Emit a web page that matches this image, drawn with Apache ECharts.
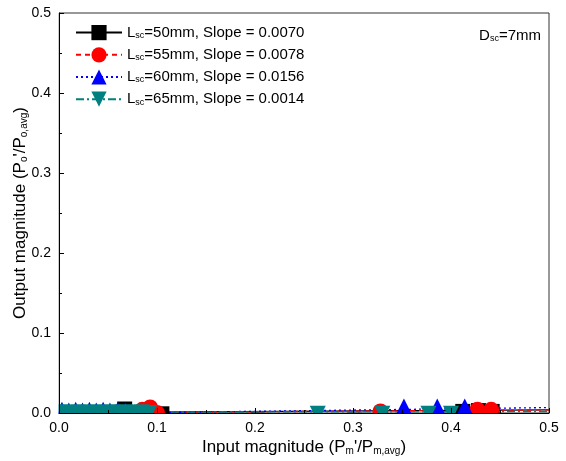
<!DOCTYPE html>
<html>
<head>
<meta charset="utf-8">
<script src="https://cdn.jsdelivr.net/npm/echarts@6/dist/echarts.min.js"></script>
<style>
html,body{margin:0;padding:0;background:#fff}
#myChart{width:566px;height:461px}
</style>
</head>
<body>
<div id="myChart"></div>
<script>
// series meta
var lengths = ['50', '55', '60', '65'];
var slopeText = ['0.0070', '0.0078', '0.0156', '0.0014'];
var slopes = [0.0070, 0.0078, 0.0156, 0.0014];
var intercepts = [0.0005, 0.0, -0.001, 0.001];
var colors = ['#000000', '#ff0000', '#0000ff', '#008080'];
var symbols = ['rect', 'circle', 'triangle', 'path://M0,0 L10,0 L5,10 Z'];
var lineTypes = ['solid', [5, 4], [2, 3], [8, 3, 2, 3]];

var x50 = [0.005, 0.015, 0.025, 0.035, 0.045, 0.055, 0.067, 0.105, 0.203, 0.302, 0.412, 0.428, 0.442];
var y50 = [-0.004, -0.005, -0.004, -0.005, -0.004, -0.003, 0.005, -0.001, -0.009, -0.009, 0.002, 0.003, 0.002];
var x55 = [0.01, 0.02, 0.03, 0.04, 0.05, 0.06, 0.085, 0.093, 0.1, 0.328, 0.427, 0.441];
var y55 = [-0.004, -0.005, -0.004, -0.003, -0.004, 0.001, 0.004, 0.007, 0.0, 0.002, 0.004, 0.004];
var x60 = [0.003, 0.01, 0.017, 0.024, 0.031, 0.038, 0.045, 0.052, 0.06, 0.068, 0.352, 0.386, 0.414];
var y60 = [0.004, 0.003, 0.004, 0.003, 0.004, 0.003, 0.004, 0.003, 0.004, 0.003, 0.008, 0.008, 0.008];
var x65 = [0.004, 0.012, 0.02, 0.028, 0.036, 0.044, 0.052, 0.06, 0.068, 0.076, 0.084, 0.092, 0.264, 0.33, 0.377, 0.4];
var y65 = [0.001, 0.0, 0.001, 0.0, 0.001, 0.0, 0.001, 0.0, 0.001, 0.0, 0.001, 0.0, -0.001, -0.001, -0.001, -0.001];

var xs = [x50, x55, x60, x65];
var ys = [y50, y55, y60, y65];

var chartDom = document.getElementById('myChart');
var myChart = echarts.init(chartDom);
var option;

var txtFont = 'Liberation Sans, Arial, sans-serif';
var subRich = {
    n: { fontSize: 15, fontFamily: txtFont, color: '#000', fontWeight: 'normal' },
    s: { fontSize: 9, fontFamily: txtFont, color: '#000', fontWeight: 'normal', verticalAlign: 'bottom', padding: [6, 0, 0, 0] }
};
var nameRich = {
    n: { fontSize: 17, fontFamily: txtFont, color: '#000', fontWeight: 'normal' },
    s: { fontSize: 10, fontFamily: txtFont, color: '#000', fontWeight: 'normal', verticalAlign: 'bottom', padding: [7, 0, 0, 0] }
};

var series = [];
var legendData = [];
for (var i = 0; i < 4; i++) {
    var name = 'L' + lengths[i];
    legendData.push(name);
    // fitted line
    series.push({
        name: name,
        type: 'line',
        data: [[0, intercepts[i]], [0.5, intercepts[i] + slopes[i] * 0.5]],
        showSymbol: false,
        symbol: symbols[i],
        symbolSize: 16,
        itemStyle: { color: colors[i] },
        lineStyle: { color: colors[i], width: 1.3, type: lineTypes[i] },
        silent: true,
        animation: false,
        z: 2
    });
}
for (var j = 0; j < 4; j++) {
    var pts = [];
    for (var k = 0; k < xs[j].length; k++) pts.push([xs[j][k], ys[j][k]]);
    series.push({
        name: 'L' + lengths[j],
        type: 'scatter',
        data: pts,
        symbol: symbols[j],
        symbolSize: j === 0 ? 15 : 16,
        itemStyle: { color: colors[j], opacity: 1 },
        clip: false,
        animation: false,
        z: 3 + j
    });
}

option = {
    animation: false,
    grid: {
        left: 59,
        right: 17,
        top: 13,
        bottom: 48,
        outerBoundsMode: 'none',
        containLabel: false,
        show: true,
        borderColor: '#333',
        borderWidth: 1,
        backgroundColor: 'transparent'
    },
    title: {
        text: '{n|D}{s|sc}{n|=7mm}',
        right: 20,
        top: 23,
        textStyle: { rich: subRich }
    },
    legend: {
        orient: 'vertical',
        left: 75,
        top: 25,
        padding: 0,
        itemWidth: 46,
        itemHeight: 19,
        itemGap: 7,
        data: legendData,
        formatter: function (name) {
            var idx = legendData.indexOf(name);
            return '{n|L}{s|sc}{n|=' + lengths[idx] + 'mm, Slope = ' + slopeText[idx] + '}';
        },
        textStyle: { rich: subRich }
    },
    graphic: [
        { type: 'rect', z: 50, shape: { x: 0, y: 413.5, width: 566, height: 48 }, style: { fill: '#fff' }, silent: true },
        { type: 'rect', z: 50, shape: { x: 0, y: 0, width: 58.5, height: 461 }, style: { fill: '#fff' }, silent: true }
    ],
    xAxis: {
        type: 'value',
        min: 0,
        max: 0.5,
        interval: 0.1,
        z: 60,
        name: '{n|Input magnitude (P}{s|m}{n|\'/P}{s|m,avg}{n|)}',
        nameLocation: 'middle',
        nameGap: 26,
        nameMoveOverlap: false,
        nameTextStyle: { rich: nameRich },
        axisLine: { lineStyle: { color: '#000', width: 1 } },
        axisTick: { inside: true, length: 5, lineStyle: { color: '#000' } },
        minorTick: { show: true, splitNumber: 2, length: 3, lineStyle: { color: '#000' } },
        splitLine: { show: false },
        axisLabel: {
            fontSize: 14,
            fontFamily: txtFont,
            color: '#000',
            margin: 8,
            formatter: function (v) { return v.toFixed(1); }
        }
    },
    yAxis: {
        type: 'value',
        min: 0,
        max: 0.5,
        interval: 0.1,
        z: 60,
        name: '{n|Output magnitude (P}{s|o}{n|\'/P}{s|o,avg}{n|)}',
        nameLocation: 'middle',
        nameGap: 30,
        nameRotate: 90,
        nameMoveOverlap: false,
        nameTextStyle: { rich: nameRich },
        axisLine: { show: true, lineStyle: { color: '#000', width: 1 } },
        axisTick: { show: true, inside: true, length: 5, lineStyle: { color: '#000' } },
        minorTick: { show: true, splitNumber: 2, length: 3, lineStyle: { color: '#000' } },
        splitLine: { show: false },
        axisLabel: {
            fontSize: 14,
            fontFamily: txtFont,
            color: '#000',
            margin: 8,
            formatter: function (v) { return v.toFixed(1); }
        }
    },
    series: series
};

option && myChart.setOption(option);
</script>
</body>
</html>
